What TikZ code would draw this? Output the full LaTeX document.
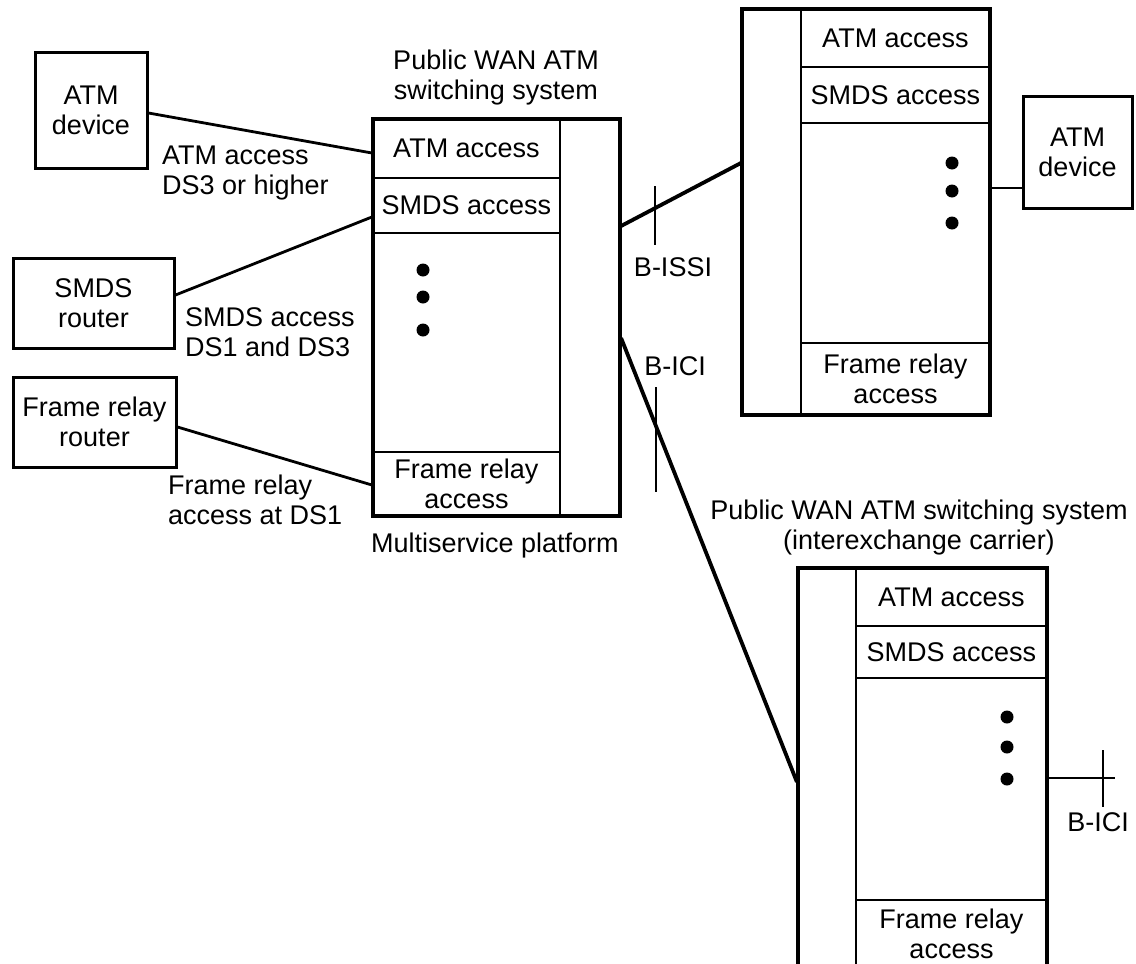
\documentclass[tikz,border=0pt]{standalone}
\usepackage{fontspec}
\setmainfont{Liberation Sans}
\usepackage{tikz}

\begin{document}
\begin{tikzpicture}[
    x=1pt, y=-1pt,
    font=\fontsize{27}{30}\selectfont,
    box/.style={draw, line width=3pt, align=center, inner sep=0pt},
    cell/.style={draw, line width=2.2pt, align=center, inner sep=0pt, minimum width=#1},
    frame/.style={draw, line width=3.2pt},
    link/.style={line width=2.8pt},
    trunk/.style={line width=3.8pt},
    tick/.style={line width=2.2pt},
    lbl/.style={align=left, inner sep=0pt, anchor=west},
    title/.style={align=center, inner sep=0pt},
    dot/.style={circle, fill, inner sep=0pt, minimum size=13pt}
  ]
    \useasboundingbox (0,0) rectangle (1136,964);

    \node[box, minimum width=112pt, minimum height=116pt] (atmdev) at (91,110) {ATM\\device};
    \node[box, minimum width=161pt, minimum height=90pt] (smdsrtr) at (93.5,303) {SMDS\\router};
    \node[box, minimum width=163pt, minimum height=90pt] (frrtr) at (94.5,422) {Frame relay\\router};
    \node[box, minimum width=109pt, minimum height=112pt] (atmdevr) at (1077.5,152) {ATM\\device};

    \node[cell=187pt, minimum height=59pt] (mspatm) at (466.5,148.5) {ATM access};
    \node[cell=187pt, minimum height=55pt] (mspsmds) at (466.5,205.5) {SMDS access};
    \node[cell=187pt, minimum height=219pt] (mspmid) at (466.5,342.5) {};
    \node[cell=187pt, minimum height=64pt] (mspfr) at (466.5,484) {Frame relay\\access};
    \node[cell=60pt, minimum height=397pt] (mspport) at (590,317.5) {};
    \node[frame, minimum width=247pt, minimum height=397pt] (mspbox) at (496.5,317.5) {};

    \node[cell=59pt, minimum height=406pt] (issport) at (771.5,212) {};
    \node[cell=189pt, minimum height=58pt] (issatm) at (895.5,38) {ATM access};
    \node[cell=189pt, minimum height=56pt] (isssmds) at (895.5,95) {SMDS access};
    \node[cell=189pt, minimum height=220pt] (issmid) at (895.5,233) {};
    \node[cell=189pt, minimum height=72pt] (issfr) at (895.5,379) {Frame relay\\access};
    \node[frame, minimum width=248pt, minimum height=406pt] (issbox) at (866,212) {};

    \node[cell=58pt, minimum height=400pt] (iciport) at (827,768) {};
    \node[cell=191pt, minimum height=58pt] (iciatm) at (951.5,597) {ATM access};
    \node[cell=191pt, minimum height=52pt] (icismds) at (951.5,652) {SMDS access};
    \node[cell=191pt, minimum height=222pt] (icimid) at (951.5,789) {};
    \node[cell=191pt, minimum height=68pt] (icifr) at (951.5,934) {Frame relay\\access};
    \node[frame, minimum width=249pt, minimum height=400pt] (icibox) at (922.5,768) {};

    \foreach \y [count=\i] in {270,297,330}
      \node[dot] (mspdot\i) at (423,\y) {};
    \foreach \y [count=\i] in {163,191,223}
      \node[dot] (issdot\i) at (952,\y) {};
    \foreach \y [count=\i] in {717,747,779}
      \node[dot] (icidot\i) at (1007,\y) {};

    \node[title] (msptitle) at (496,78) {Public WAN ATM\\switching system};
    \node[title] (mspname) at (495,546) {Multiservice platform};
    \node[title] (icititle) at (919,528) {Public WAN ATM switching system\\(interexchange carrier)};

    \node[lbl] (atmlbl) at (162,173) {ATM access\\DS3 or higher};
    \node[lbl] (smdslbl) at (185,332) {SMDS access\\DS1 and DS3};
    \node[lbl] (frlbl) at (168,500) {Frame relay\\access at DS1};

    \draw[link] ([yshift=-3pt]atmdev.east) -- ([yshift=-4.5pt]mspatm.west);
    \draw[link] ([yshift=8pt]smdsrtr.east) -- ([yshift=-11.5pt]mspsmds.west);
    \draw[link] ([yshift=-5pt]frrtr.east) -- ([yshift=-1pt]mspfr.west);
    \draw[link] ([yshift=45pt]issmid.east) -- ([yshift=-36pt]atmdevr.west);

    \draw[trunk] ([yshift=91.5pt]mspport.east) -- coordinate[pos=0.28] (issitick) ([yshift=49pt]issport.west);
    \draw[tick] ([yshift=22pt]issitick) -- ([yshift=-37pt]issitick);
    \node[title] (issilbl) at (673,267) {B-ISSI};

    \draw[trunk] ([yshift=-20.5pt]mspport.east) -- coordinate[pos=0.197] (icitick) ([yshift=-14pt]iciport.west);
    \draw[tick] ([yshift=38pt]icitick) -- ([yshift=-67pt]icitick);
    \node[title] (icilbl) at (675,366) {B-ICI};

    \coordinate (iciend) at (1115,778);
    \draw[link] ([yshift=11pt]icimid.east) -- coordinate[pos=0.82] (icirtick) (iciend);
    \draw[tick] ([yshift=28pt]icirtick) -- ([yshift=-29pt]icirtick);
    \node[title] (icirlbl) at (1098,822) {B-ICI};
  \end{tikzpicture}
\end{document}
